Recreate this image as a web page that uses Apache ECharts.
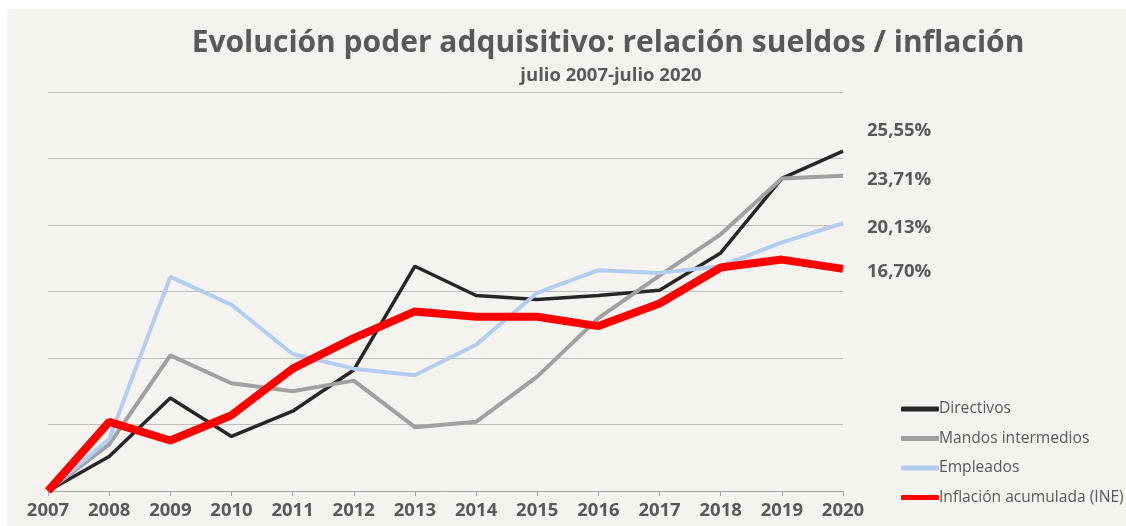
<!DOCTYPE html>
<html>
<head>
<meta charset="utf-8">
<script src="https://cdn.jsdelivr.net/npm/echarts@6/dist/echarts.min.js"></script>
<style>
html,body{margin:0;padding:0;background:#ffffff;}
#chart{width:1126px;height:526px;}
</style>
</head>
<body>
<div id="chart"></div>
<script>
const titleText = 'Evolución poder adquisitivo: relación sueldos / inflación';
const subtitleText = 'julio 2007-julio 2020';
const years = ['2007','2008','2009','2010','2011','2012','2013','2014','2015','2016','2017','2018','2019','2020'];
const directivos = [0, 2.6, 7.0, 4.1, 6.0, 9.1, 16.9, 14.7, 14.4, 14.7, 15.1, 17.9, 23.5, 25.55];
const mandos     = [0, 3.5, 10.2, 8.1, 7.5, 8.3, 4.8, 5.2, 8.6, 13.0, 16.2, 19.3, 23.5, 23.71];
const empleados  = [0, 3.9, 16.1, 14.0, 10.3, 9.2, 8.7, 11.0, 14.9, 16.6, 16.4, 16.9, 18.7, 20.13];
const inflacion  = [0, 5.2, 3.8, 5.7, 9.2, 11.5, 13.5, 13.1, 13.1, 12.4, 14.1, 16.8, 17.4, 16.70];
const seriesNames = ['Directivos','Mandos intermedios','Empleados','Inflación acumulada (INE)'];

const chart = echarts.init(document.getElementById('chart'));
const gray = '#595959';
const fmt = p => p.value.toFixed(2).replace('.', ',') + '%';
function endLabel(dy){
  return {show:true, formatter:fmt, distance:24, offset:[0,dy],
    fontFamily:'Open Sans', fontWeight:'bold', fontSize:18.5, color:gray};
}
chart.setOption({
  backgroundColor:'#ffffff',
  animation:false,
  graphic:[{type:'rect', left:7, top:9, z:-100, silent:true,
    shape:{width:1119, height:517}, style:{fill:'#f4f3ef'}}],
  title:[
    {text:titleText, left:603, textAlign:'center', top:23,
     textStyle:{fontFamily:'Open Sans', fontWeight:'bold', fontSize:30, color:gray}},
    {text:subtitleText, left:606, textAlign:'center', top:61,
     textStyle:{fontFamily:'Open Sans', fontWeight:'bold', fontSize:18.5, color:gray}}
  ],
  legend:{
    orient:'vertical', left:896, top:394, itemWidth:38, itemHeight:5, itemGap:9.5,
    icon:'roundRect',
    textStyle:{fontFamily:'Open Sans', fontSize:15.6, color:gray, lineHeight:20, padding:[0,0,0,-5]},
    data:seriesNames
  },
  grid:{left:48, right:283, top:92, bottom:35},
  xAxis:{
    type:'category', data:years, boundaryGap:false,
    axisLine:{lineStyle:{color:'#a6a6a6', width:1}},
    axisTick:{show:true, length:5, lineStyle:{color:'#a6a6a6'}},
    axisLabel:{margin:10, fontFamily:'Open Sans', fontWeight:'bold', fontSize:18.5, color:gray}
  },
  yAxis:{
    type:'value', min:0, max:30, interval:5,
    axisLabel:{show:false}, axisLine:{show:false}, axisTick:{show:false},
    splitLine:{lineStyle:{color:'#bfbfbf', width:1}}
  },
  series:[
    {name:seriesNames[0], type:'line', data:directivos, symbol:'none', color:'#262626',
     lineStyle:{width:3.5, color:'#262626'}, endLabel:endLabel(-20)},
    {name:seriesNames[1], type:'line', data:mandos, symbol:'none', color:'#a0a0a0',
     lineStyle:{width:4, color:'#a0a0a0'}, endLabel:endLabel(4)},
    {name:seriesNames[2], type:'line', data:empleados, symbol:'none', color:'#b4cdee',
     lineStyle:{width:4, color:'#b4cdee'}, endLabel:endLabel(4)},
    {name:seriesNames[3], type:'line', data:inflacion, symbol:'none', color:'#ff0000',
     lineStyle:{width:8, color:'#ff0000'}, endLabel:endLabel(3)}
  ]
});
</script>
</body>
</html>
